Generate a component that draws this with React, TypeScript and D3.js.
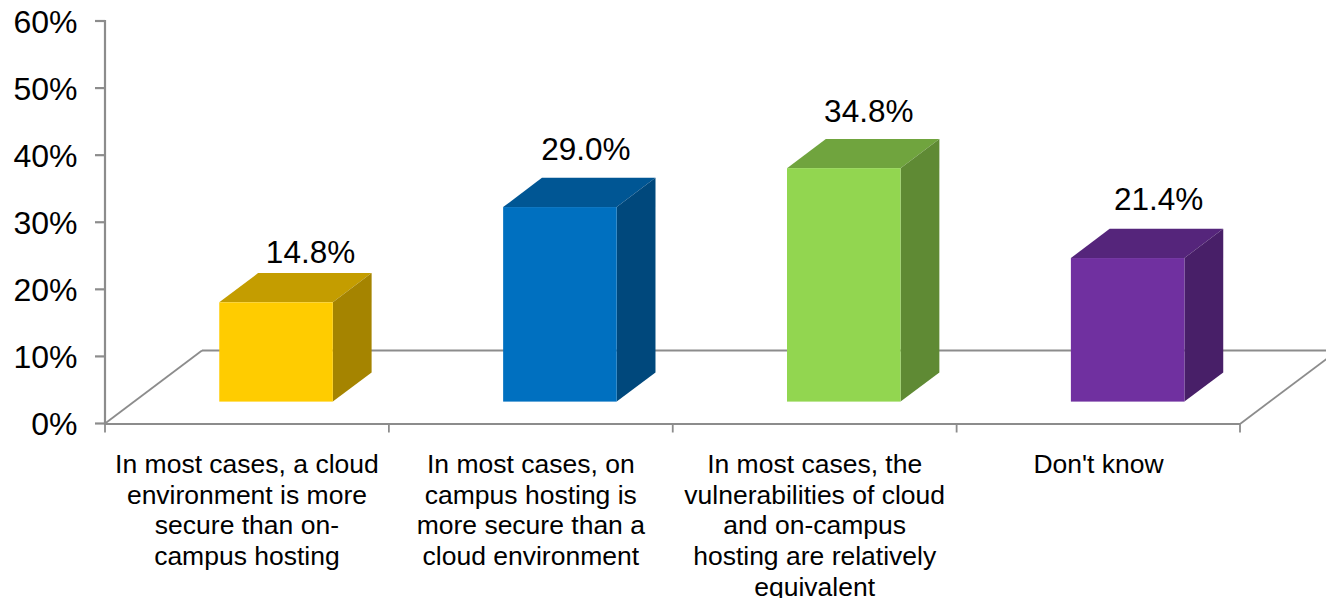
import React from "react";
import * as d3 from "d3";

const categories = ["secure-cloud", "secure-campus", "equivalent", "dont-know"];
const values = [14.8, 29.0, 34.8, 21.4];
const yTicks = [0, 10, 20, 30, 40, 50, 60];
const categoryLines = [
  ["In most cases, a cloud", "environment is more", "secure than on-", "campus hosting"],
  ["In most cases, on", "campus hosting is", "more secure than a", "cloud environment"],
  ["In most cases, the", "vulnerabilities of cloud", "and on-campus", "hosting are relatively", "equivalent"],
  ["Don't know"],
];
const frontColors = ["#FFCC00", "#0070C0", "#92D650", "#7030A0"];
const topColors = ["#C49D00", "#005694", "#70A43E", "#55257B"];
const sideColors = ["#A58400", "#00487C", "#5F8A34", "#481F68"];

const FONT = "'Liberation Sans', Arial, sans-serif";
const GRAY = "#8C8C8C";

export default function App() {
  const x = d3.scaleBand<string>().domain(categories).range([105, 1240.5]);
  const y = d3.scaleLinear().domain([0, 60]).range([423.5, 21]);
  const depthX = 97;
  const depthY = 73;
  const barW = x.bandwidth() / 2.5;
  const poly = d3.line();
  const frontShiftX = depthX * 0.3;
  const frontShiftY = depthY * 0.3;
  const barDX = depthX * 0.4;
  const barDY = depthY * 0.4;
  const y0 = y(0);
  const labelNudgeX = [34.5, 26, 25, 31];
  const labelNudgeY = [39, 47, 46, 48];

  return (
    <svg width={1326} height={598} style={{ position: "absolute", left: 0, top: 0, background: "#fff" }}>
      {/* floor */}
      <g fill="none" stroke={GRAY} strokeWidth={2.2}>
        <path
          strokeWidth={1.8}
          d={poly([
            [105, y0],
            [105 + depthX, y0 - depthY],
          ]) as string}
        />
        <line x1={105 + depthX} x2={1326} y1={y0 - depthY} y2={y0 - depthY} />
        <path
          strokeWidth={1.8}
          d={poly([
            [1240, y0 + 0.5],
            [1240 + depthX, y0 + 0.5 - depthY],
          ]) as string}
        />
        <line x1={104} x2={1240} y1={y0 + 0.5} y2={y0 + 0.5} />
        <line x1={105} x2={105} y1={y(60) - 1} y2={y0 + 1} />
        {yTicks.map((t) => (
          <line key={t} x1={95} x2={105} y1={y(t)} y2={y(t)} />
        ))}
        {[...categories.map((c) => x(c) as number), 1240].map((px) => (
          <line key={px} x1={px} x2={px} y1={y0} y2={y0 + 9} strokeWidth={1.8} />
        ))}
      </g>
      {/* y labels */}
      <g fontFamily={FONT} fontSize={32} fill="#000" textAnchor="end">
        {yTicks.map((t) => (
          <text key={t} x={77.5} y={y(t) + 11.5}>{`${t}%`}</text>
        ))}
      </g>
      {/* bars */}
      {categories.map((c, i) => {
        const left = (x(c) as number) + (x.bandwidth() - barW) / 2 + frontShiftX;
        const right = left + barW;
        const bottom = y0 - frontShiftY;
        const top = bottom - (y0 - y(values[i]));
        return (
          <g key={c}>
            <path
              fill={topColors[i]}
              d={(poly([
                [left, top],
                [left + barDX, top - barDY],
                [right + barDX, top - barDY],
                [right, top],
              ]) as string) + "Z"}
            />
            <path
              fill={sideColors[i]}
              d={(poly([
                [right, top],
                [right + barDX, top - barDY],
                [right + barDX, bottom - barDY],
                [right, bottom],
              ]) as string) + "Z"}
            />
            <rect x={left} y={top} width={barW} height={bottom - top} fill={frontColors[i]} />
            <text
              x={left + barW / 2 + labelNudgeX[i]}
              y={top - labelNudgeY[i]}
              fontFamily={FONT}
              fontSize={31.5}
              textAnchor="middle"
              fill="#000"
            >
              {`${values[i].toFixed(1)}%`}
            </text>
          </g>
        );
      })}
      {/* category labels */}
      <g fontFamily={FONT} fontSize={26.5} fill="#000" textAnchor="middle">
        {categories.map((c, i) =>
          categoryLines[i].map((line, j) => (
            <text key={line} x={(x(c) as number) + x.bandwidth() / 2} y={472.8 + j * 30.8}>
              {line}
            </text>
          )),
        )}
      </g>
    </svg>
  );
}
